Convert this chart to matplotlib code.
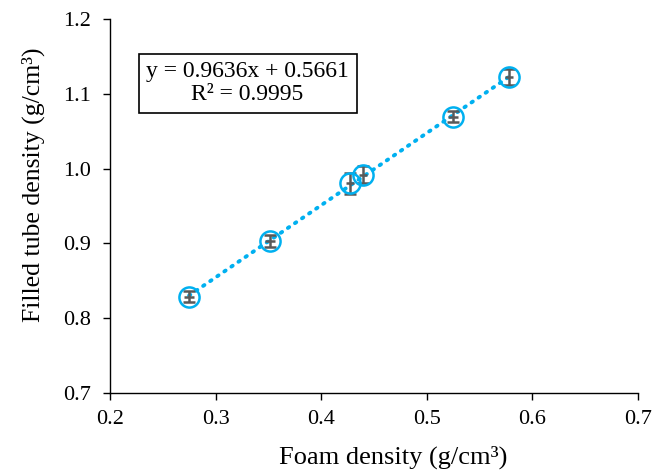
import matplotlib.pyplot as plt
import numpy as np

plt.rcParams['font.family'] = ['Liberation Serif', 'DejaVu Serif']

foam = [0.2748, 0.3515, 0.4273, 0.4396, 0.5248, 0.5778]
tube = [0.829, 0.903, 0.980, 0.992, 1.069, 1.122]
tube_err = [0.008, 0.008, 0.014, 0.011, 0.0075, 0.011]
foam_err = [0.005, 0.005, 0.004, 0.004, 0.005, 0.004]

fig = plt.figure(figsize=(6.68, 4.73), dpi=100)
ax = fig.add_axes([0.1647, 0.169, 0.7905, 0.7912])

blue = '#00B0F0'
grey = '#595959'

ax.errorbar(foam, tube, yerr=tube_err, fmt='none',
            ecolor=grey, elinewidth=1.8, capsize=4.5, capthick=1.8, zorder=2)
ax.errorbar(foam, tube, xerr=foam_err, fmt='none',
            ecolor=grey, elinewidth=1.8, capsize=0, zorder=2)
ax.plot(foam, tube, 'o', mfc='none', mec=blue, mew=1.8, ms=14.5, zorder=3)

# linear trendline
k, b = np.polyfit(foam, tube, 1)
xs = np.array([min(foam), max(foam)])
ax.plot(xs, k * xs + b, color=blue, ls=(0, (0.4, 1.8)), lw=2.8,
        dash_capstyle='round', zorder=1)

ax.set_xlim(0.2, 0.7)
ax.set_ylim(0.7, 1.2)
ax.set_xticks(np.arange(0.2, 0.71, 0.1))
ax.set_yticks(np.arange(0.7, 1.21, 0.1))
ax.set_xticklabels(['0.2', '0.3', '0.4', '0.5', '0.6', '0.7'])
ax.set_yticklabels(['0.7', '0.8', '0.9', '1.0', '1.1', '1.2'])
ax.tick_params(labelsize=16, direction='out', length=5, width=1, color='black')
ax.tick_params(axis='y', pad=9)
ax.tick_params(axis='x', pad=7)
for s in ['top', 'right']:
    ax.spines[s].set_visible(False)
for s in ['left', 'bottom']:
    ax.spines[s].set_linewidth(1)

ax.set_xlabel('Foam density (g/cm³)', fontsize=19, labelpad=12)
ax.set_ylabel('Filled tube density (g/cm³)', fontsize=18.5, labelpad=13)
ax.xaxis.label.set_x(0.536)
ax.yaxis.label.set_y(0.556)

ax.text(0.2604, 0.8275, 'y = 0.9636x + 0.5661\nR² = 0.9995', transform=ax.transAxes,
        ha='center', va='center', fontsize=17, linespacing=1.12,
        bbox=dict(boxstyle='square,pad=0.32', fc='white', ec='black', lw=1.2))

fig.savefig('out.png', dpi=100)
